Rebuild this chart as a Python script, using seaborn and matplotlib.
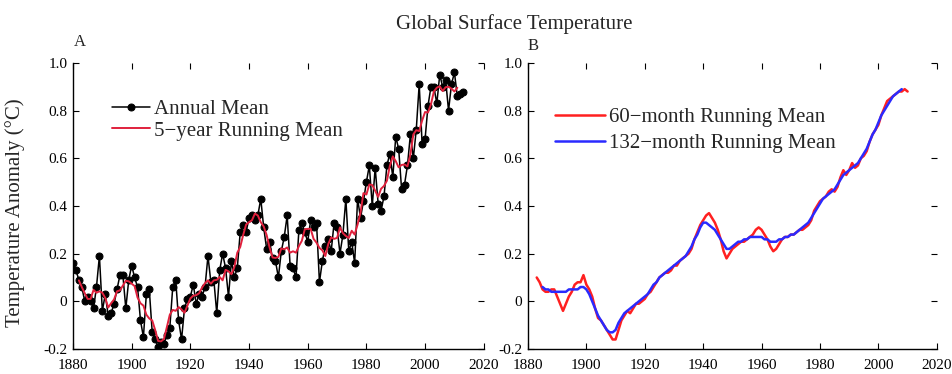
import matplotlib
matplotlib.use("Agg")
import matplotlib.pyplot as plt
import pandas as pd
import seaborn as sns

# Annual global surface temperature anomaly (°C), 1880-2013
years = list(range(1880, 2014))
annual_mean = [
    0.16, 0.13, 0.09, 0.06, 0.00, 0.02, 0.00, -0.03, 0.06, 0.19,
    -0.04, 0.03, -0.06, -0.05, -0.01, 0.05, 0.11, 0.11, -0.03, 0.09,
    0.15, 0.10, 0.06, -0.08, -0.15, 0.03, 0.05, -0.13, -0.16, -0.19,
    -0.17, -0.18, -0.14, -0.11, 0.06, 0.09, -0.08, -0.16, -0.03, 0.01,
    0.02, 0.07, -0.01, 0.03, 0.02, 0.06, 0.19, 0.08, 0.09, -0.05,
    0.13, 0.20, 0.14, 0.02, 0.17, 0.10, 0.14, 0.29, 0.32, 0.29,
    0.35, 0.36, 0.34, 0.36, 0.43, 0.31, 0.22, 0.25, 0.18, 0.17,
    0.10, 0.21, 0.27, 0.36, 0.15, 0.14, 0.10, 0.30, 0.33, 0.29,
    0.25, 0.34, 0.31, 0.33, 0.08, 0.17, 0.23, 0.26, 0.21, 0.33,
    0.31, 0.20, 0.28, 0.43, 0.21, 0.25, 0.16, 0.43, 0.35, 0.42,
    0.50, 0.57, 0.40, 0.56, 0.41, 0.38, 0.44, 0.57, 0.62, 0.52,
    0.69, 0.64, 0.47, 0.49, 0.57, 0.70, 0.60, 0.72, 0.91, 0.66,
    0.68, 0.82, 0.90, 0.90, 0.83, 0.95, 0.90, 0.93, 0.80, 0.91,
    0.96, 0.86, 0.87, 0.88,
]

# 60-month running mean, sampled yearly from 1883
running60_years = list(range(1883, 2011))
running60 = [
    0.10, 0.08, 0.05, 0.04, 0.04, 0.05, 0.05, 0.02, -0.01, -0.04,
    -0.01, 0.02, 0.04, 0.07, 0.08, 0.08, 0.11, 0.07, 0.05, 0.02,
    -0.03, -0.07, -0.08, -0.10, -0.12, -0.14, -0.16, -0.16, -0.12, -0.08,
    -0.06, -0.04, -0.05, -0.03, -0.01, -0.01, 0.00, 0.01, 0.03, 0.04,
    0.06, 0.08, 0.10, 0.11, 0.12, 0.12, 0.13, 0.15, 0.15, 0.17,
    0.18, 0.19, 0.20, 0.22, 0.26, 0.29, 0.32, 0.34, 0.36, 0.37,
    0.35, 0.33, 0.30, 0.26, 0.21, 0.18, 0.20, 0.22, 0.23, 0.24,
    0.25, 0.25, 0.26, 0.27, 0.28, 0.30, 0.31, 0.30, 0.28, 0.26,
    0.23, 0.21, 0.22, 0.24, 0.26, 0.27, 0.27, 0.28, 0.28, 0.29,
    0.30, 0.30, 0.31, 0.32, 0.34, 0.38, 0.40, 0.42, 0.43, 0.44,
    0.46, 0.47, 0.46, 0.48, 0.52, 0.55, 0.53, 0.55, 0.58, 0.56,
    0.57, 0.60, 0.61, 0.63, 0.67, 0.70, 0.72, 0.74, 0.78, 0.81,
    0.84, 0.85, 0.86, 0.87, 0.88, 0.88, 0.89, 0.88,
]

# 132-month running mean, sampled yearly from 1885
running132_years = list(range(1885, 2009))
running132 = [
    0.06, 0.05, 0.05, 0.04, 0.04, 0.04, 0.04, 0.04, 0.04, 0.05,
    0.05, 0.05, 0.05, 0.06, 0.06, 0.05, 0.03, 0.00, -0.03, -0.06,
    -0.08, -0.10, -0.12, -0.13, -0.13, -0.12, -0.09, -0.07, -0.05, -0.04,
    -0.03, -0.02, -0.01, 0.00, 0.01, 0.02, 0.03, 0.05, 0.07, 0.08,
    0.10, 0.11, 0.12, 0.13, 0.14, 0.15, 0.16, 0.17, 0.18, 0.19,
    0.21, 0.23, 0.26, 0.28, 0.31, 0.33, 0.33, 0.32, 0.31, 0.30,
    0.28, 0.26, 0.24, 0.22, 0.22, 0.23, 0.24, 0.25, 0.25, 0.26,
    0.26, 0.27, 0.27, 0.27, 0.27, 0.27, 0.26, 0.26, 0.25, 0.25,
    0.25, 0.26, 0.26, 0.27, 0.27, 0.28, 0.28, 0.29, 0.30, 0.31,
    0.32, 0.33, 0.35, 0.37, 0.39, 0.41, 0.43, 0.44, 0.45, 0.46,
    0.47, 0.49, 0.51, 0.53, 0.54, 0.55, 0.56, 0.57, 0.58, 0.60,
    0.62, 0.64, 0.67, 0.70, 0.72, 0.75, 0.78, 0.80, 0.82, 0.84,
    0.86, 0.87, 0.88, 0.89,
]

x_ticks = [1880, 1900, 1920, 1940, 1960, 1980, 2000, 2020]
y_ticks = [-0.2, 0.0, 0.2, 0.4, 0.6, 0.8, 1.0]
y_tick_labels = ["-0.2", "0", "0.2", "0.4", "0.6", "0.8", "1.0"]

sns.set_style("ticks")
plt.rcParams["font.family"] = ["Liberation Serif", "DejaVu Serif"]

annual_df = pd.DataFrame({"year": years, "anomaly": annual_mean})
annual_df["five_year"] = annual_df["anomaly"].rolling(5, center=True).mean()
df60 = pd.DataFrame({"year": running60_years, "anomaly": running60})
df132 = pd.DataFrame({"year": running132_years, "anomaly": running132})

fig = plt.figure(figsize=(9.53, 3.74), dpi=100)
ax_a = fig.add_axes([0.0766, 0.0668, 0.431, 0.765])
ax_b = fig.add_axes([0.554, 0.0668, 0.429, 0.765])


def style_axes(ax):
    ax.set_xlim(1880, 2020)
    ax.set_ylim(-0.2, 1.0)
    ax.set_xticks(x_ticks)
    ax.set_yticks(y_ticks)
    ax.set_yticklabels(y_tick_labels)
    ax.tick_params(direction="in", top=True, right=True, length=4,
                   labelsize=11, width=0.8, colors="black")
    ax.tick_params(axis="x", pad=7)
    ax.tick_params(axis="y", pad=4)
    for side in ("top", "right"):
        ax.spines[side].set_visible(False)
    for side in ("left", "bottom"):
        ax.spines[side].set_linewidth(1.0)
        ax.spines[side].set_color("black")
    ax.set_xlabel("")
    ax.set_ylabel("")


# Panel A: annual values and 5-year running mean
sns.lineplot(data=annual_df, x="year", y="anomaly", ax=ax_a, color="black",
             marker="o", markersize=5, linewidth=1.1, markeredgecolor="black",
             label="Annual Mean")
sns.lineplot(data=annual_df, x="year", y="five_year", ax=ax_a, color="#e0203c",
             linewidth=1.4, label="5\u2212year Running Mean")
style_axes(ax_a)
ax_a.legend(loc="center left", bbox_to_anchor=(0.095, 0.80), frameon=False,
            fontsize=15, handlelength=1.8, handletextpad=0.2, labelspacing=0.1,
            borderpad=0, borderaxespad=0)

# Panel B: monthly running means
sns.lineplot(data=df60, x="year", y="anomaly", ax=ax_b, color="#ff2020",
             linewidth=1.8, label="60\u2212month Running Mean")
sns.lineplot(data=df132, x="year", y="anomaly", ax=ax_b, color="#2a2aff",
             linewidth=1.8, label="132\u2212month Running Mean")
style_axes(ax_b)
ax_b.legend(loc="center left", bbox_to_anchor=(0.066, 0.765), frameon=False,
            fontsize=15, handlelength=2.4, handletextpad=0.2, labelspacing=0.3,
            borderpad=0, borderaxespad=0)

fig.text(0.540, 0.935, "Global Surface Temperature", ha="center", va="center",
         fontsize=15)
fig.text(0.016, 0.43, "Temperature Anomaly (°C)", rotation=90, ha="center",
         va="center", fontsize=15)
fig.text(0.084, 0.888, "A", ha="center", va="center", fontsize=12)
fig.text(0.559, 0.877, "B", ha="center", va="center", fontsize=12)

fig.savefig("out.png", dpi=100)
